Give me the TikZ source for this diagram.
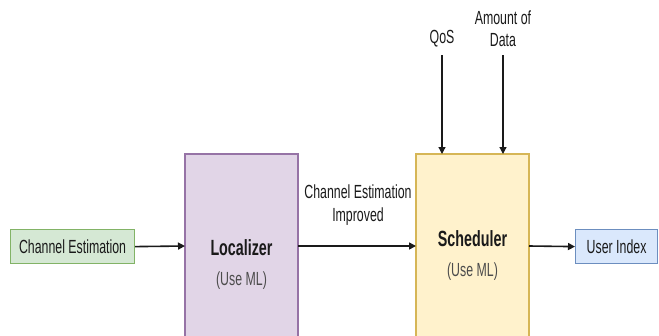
\documentclass[tikz,border=0pt]{standalone}
\usepackage{fontspec}
\setmainfont[FakeStretch=0.65]{Liberation Sans}
\usetikzlibrary{arrows.meta}
\definecolor{gfill}{HTML}{D5E8D4}\definecolor{gline}{HTML}{82B366}
\definecolor{pfill}{HTML}{E1D5E7}\definecolor{pline}{HTML}{9673A6}
\definecolor{yfill}{HTML}{FFF2CC}\definecolor{yline}{HTML}{D6B656}
\definecolor{bfill}{HTML}{DAE8FC}\definecolor{bline}{HTML}{6C8EBF}
\definecolor{txt}{HTML}{1A1A1A}
\begin{document}
\begin{tikzpicture}[x=1pt,y=-1pt,
  conn/.style={draw=txt,line width=1.6pt,-{Triangle[length=7pt,width=7pt]}},
  smallbox/.style={draw=#1,line width=1.2pt,minimum height=34pt,inner sep=0pt},
  bigbox/.style={line width=1.2pt},
  lbl/.style={font=\fontsize{19}{22.5}\selectfont,text=txt,align=center,inner sep=0pt},
  ttl/.style={lbl,font=\bfseries\fontsize{22}{24}\selectfont},
  sub/.style={lbl,text=black!70}]
\useasboundingbox (0,0) rectangle (659,335);
% boxes
\node[smallbox=gline,fill=gfill,minimum width=124pt,anchor=north west,lbl] (ce) at (10,229) {Channel Estimation};
\node[smallbox=bline,fill=bfill,minimum width=82pt,anchor=north west,lbl] (ui) at (575,229) {User Index};
\draw[bigbox,draw=pline,fill=pfill] (185,340) -- (185,154) -- (298,154) -- (298,340);
\draw[bigbox,draw=yline,fill=yfill] (416,340) -- (416,154) -- (529,154) -- (529,340);
\coordinate (locW) at (185,246);
\coordinate (locE) at (298,246);
\coordinate (schW) at (416,246);
\coordinate (schE) at (529,246);
\coordinate (schN1) at (442,154);
\coordinate (schN2) at (503,154);
\node[ttl] (loct) at (241.5,248) {Localizer};
\node[sub] (locm) at (241.5,281) {(Use ML)};
\node[ttl] (scht) at (472.5,239) {Scheduler};
\node[sub] (schm) at (472.5,272) {(Use ML)};
% labels
\node[lbl] (imp) at (358,205) {Channel Estimation\\Improved};
\node[lbl,anchor=south] (qos) at (442,47) {QoS};
\node[lbl,anchor=south] (amt) at (503,47) {Amount of\\Data};
% connectors
\draw[conn] (ce.east) -- (locW);
\draw[conn] (locE) -- (schW);
\draw[conn] (schE) -- (ui.west);
\draw[conn,line width=1.2pt] (qos.south) ++(0,8) coordinate (q0) (q0) -- (schN1);
\draw[conn,line width=1.2pt] (amt.south) ++(0,8) coordinate (a0) (a0) -- (schN2);
\end{tikzpicture}
\end{document}
